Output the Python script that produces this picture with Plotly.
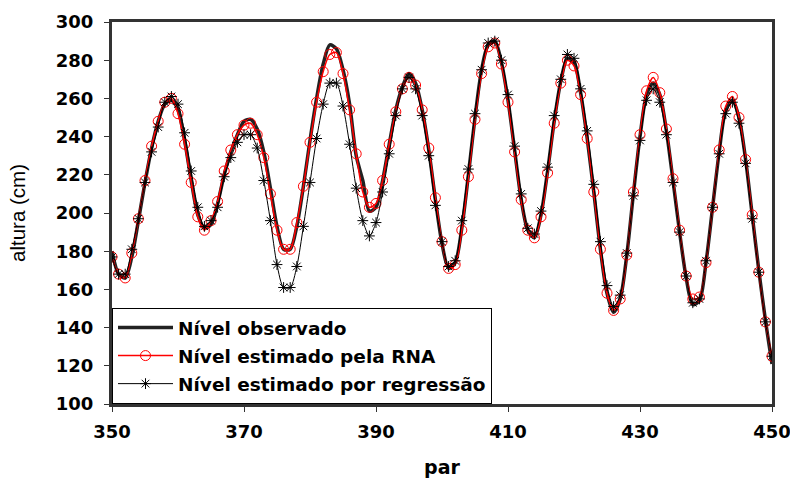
import plotly.graph_objects as go

par = list(range(350, 451))

observado = [180, 168, 166, 177, 196, 216, 234, 248, 257, 259,
             254, 238, 217, 199, 192, 194, 205, 220, 232, 241,
             248, 249, 244, 232, 213, 193, 181, 181, 193, 214,
             238, 260, 278, 288, 286, 275, 257, 230, 217, 201,
             203, 217, 236, 254, 266, 273, 268, 254, 233, 207,
             184, 171, 174, 192, 220, 250, 275, 288, 290, 279,
             259, 233, 207, 191, 187, 199, 222, 248, 269, 281,
             279, 263, 239, 211, 181, 158, 148, 155, 178, 210,
             240, 262, 268, 262, 243, 217, 190, 166, 152, 154,
             174, 203, 232, 254, 259, 250, 228, 199, 170, 144,
             121]

rna = [177, 168, 166, 179, 197, 217, 235, 248, 258, 260,
       252, 236, 216, 198, 191, 196, 206, 222, 233, 241,
       246, 247, 241, 229, 210, 191, 181, 181, 195, 214,
       237, 258, 274, 283, 284, 273, 254, 231, 211, 203,
       205, 217, 236, 253, 265, 271, 267, 254, 234, 208,
       185, 171, 173, 191, 219, 249, 273, 287, 289, 278,
       258, 232, 207, 191, 187, 198, 221, 247, 268, 280,
       277, 262, 239, 211, 181, 158, 149, 155, 178, 211,
       241, 264, 271, 263, 244, 218, 191, 167, 155, 156,
       174, 203, 233, 256, 261, 250, 228, 199, 169, 143,
       125]

regressao = [177, 168, 168, 181, 197, 216, 232, 245, 258, 261,
             257, 242, 222, 203, 193, 196, 203, 219, 229, 237,
             241, 241, 234, 217, 196, 173, 161, 161, 172, 193,
             216, 239, 257, 268, 268, 256, 236, 213, 196, 188,
             195, 211, 231, 251, 265, 271, 265, 251, 230, 204,
             185, 172, 175, 196, 223, 252, 275, 289, 290, 280,
             262, 235, 210, 192, 189, 201, 224, 251, 270, 283,
             281, 265, 243, 215, 185, 162, 151, 157, 179, 209,
             238, 259, 265, 258, 241, 216, 190, 167, 153, 155,
             175, 203, 231, 252, 258, 247, 226, 197, 169, 143,
             125]

y_ticks = [100, 120, 140, 160, 180, 200, 220, 240, 260, 280, 300]
x_ticks = [350, 370, 390, 410, 430, 450]

FONT = "DejaVu Sans, Verdana, sans-serif"

fig = go.Figure()
fig.add_trace(go.Scatter(
    x=par, y=observado, mode="lines", name="<b>Nível observado</b>",
    line=dict(color="#222222", width=3.5, shape="spline", smoothing=0.8),
    legendgroup="a"))
fig.add_trace(go.Scatter(
    x=par, y=rna, mode="lines+markers", name="<b>Nível estimado pela RNA</b>",
    line=dict(color="#ff0000", width=1.5, shape="spline", smoothing=0.8),
    marker=dict(symbol="circle-open", size=10, color="#ff0000",
                line=dict(color="#ff0000", width=1)),
    legendgroup="b"))
fig.add_trace(go.Scatter(
    x=par, y=regressao, mode="lines+markers", name="<b>Nível estimado por regressão</b>",
    line=dict(color="#000000", width=1, shape="spline", smoothing=0.8),
    marker=dict(symbol="asterisk-open", size=9, color="#000000",
                line=dict(color="#000000", width=1)),
    legendgroup="c"))

axis_common = dict(showline=True, linecolor="#333333", linewidth=3, mirror=True,
                   showgrid=False, zeroline=False, ticks="outside", ticklen=5,
                   tickcolor="#333333", tickwidth=1, automargin=False,
                   ticklabeloverflow="allow")

fig.update_layout(
    width=790, height=478,
    margin=dict(l=112, r=18, t=22, b=74),
    paper_bgcolor="white", plot_bgcolor="white",
    font=dict(family=FONT, color="black"),
    xaxis=dict(range=[350, 450], tickvals=x_ticks,
               tickfont=dict(family=FONT, size=18, color="black"),
               ticktext=[f"<b>{v}</b>" for v in x_ticks],
               ticklabelstandoff=4,
               title=dict(text="<b>par</b>", font=dict(family=FONT, size=19), standoff=26),
               **axis_common),
    yaxis=dict(range=[100, 300], tickvals=y_ticks,
               ticktext=[f"<b>{v}</b>" for v in y_ticks],
               tickfont=dict(family=FONT, size=18, color="black"),
               ticklabelstandoff=7,
               title=dict(text="altura (cm)", font=dict(family="Liberation Sans, Arial, sans-serif", size=20.5), standoff=25),
               **axis_common),
    showlegend=True,
    legend=dict(x=0, y=0, xanchor="left", yanchor="bottom",
                bgcolor="white", bordercolor="black", borderwidth=1,
                font=dict(family=FONT, size=18.5, color="black"),
                itemwidth=55,
                tracegroupgap=1, traceorder="grouped"),
)

fig.write_html("out.html",
               config={"displayModeBar": False},
               post_script="document.body.style.margin='0';document.body.style.overflow='hidden';")
